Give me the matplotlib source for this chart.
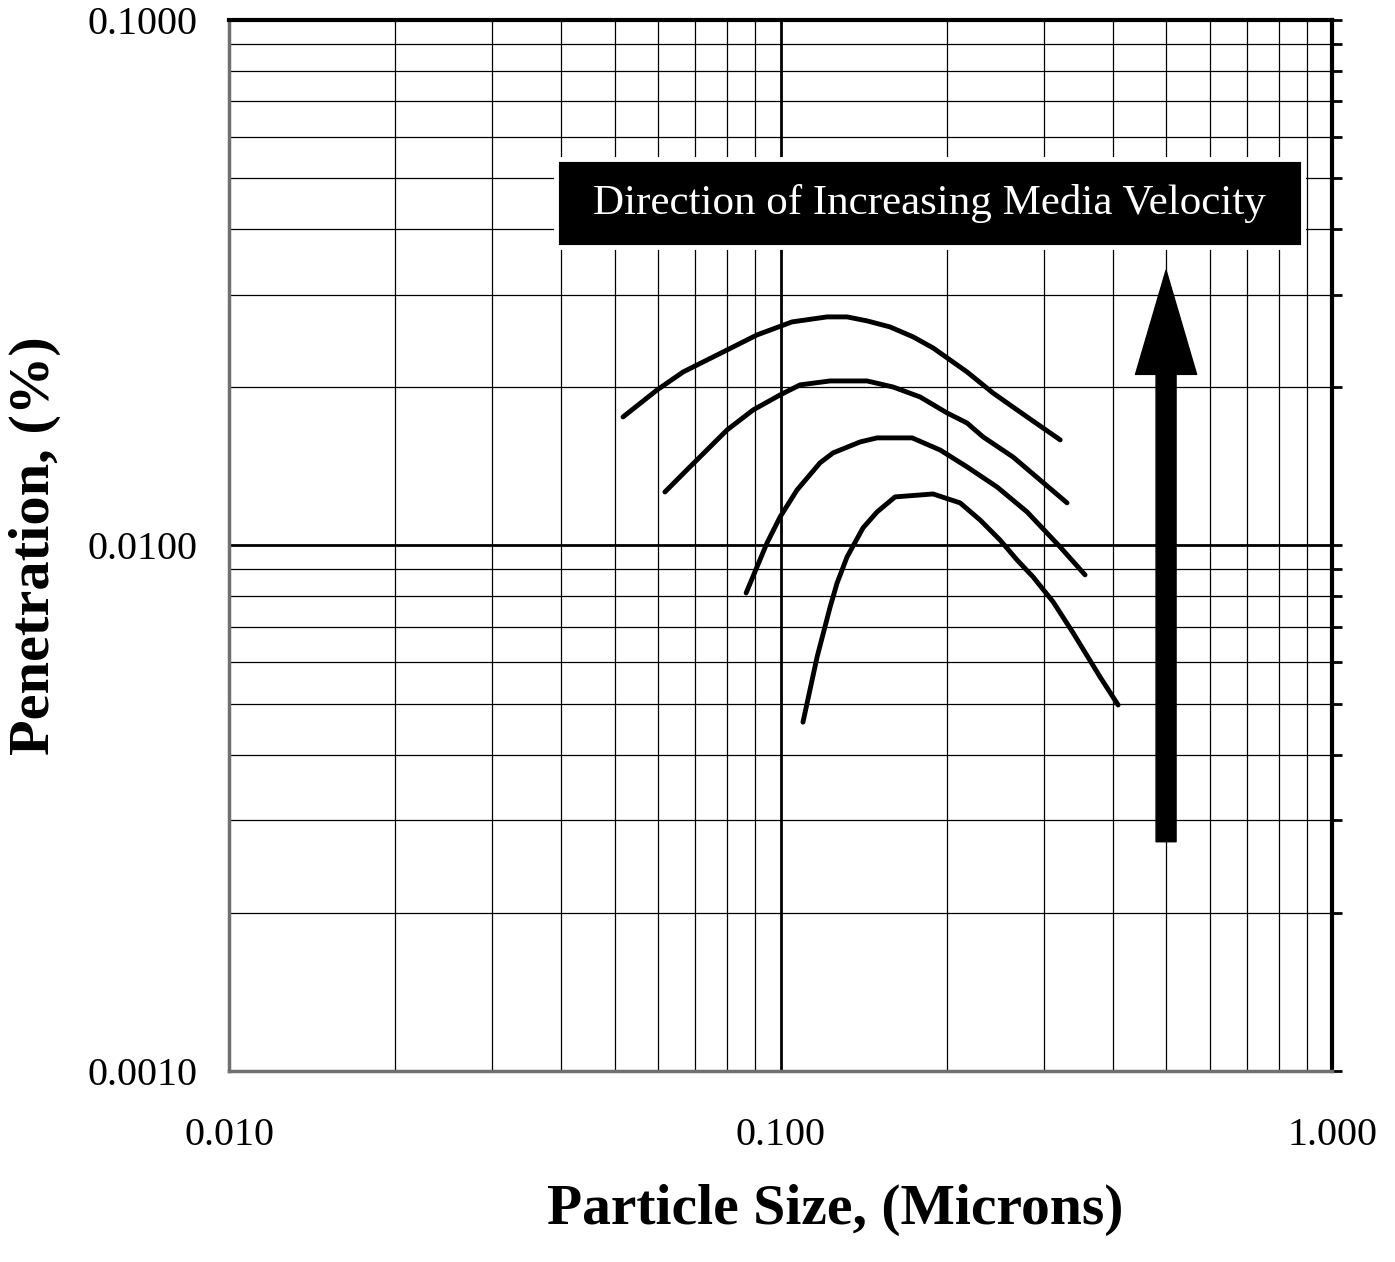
import matplotlib
matplotlib.use("Agg")
import matplotlib.pyplot as plt
from matplotlib.patches import Rectangle
from matplotlib.ticker import NullFormatter, LogLocator

plt.rcParams['font.family'] = ['Liberation Serif', 'DejaVu Serif']

# curves, top to bottom (particle size in microns, penetration in %)
size_1 = [0.0518, 0.0597, 0.0666, 0.0800, 0.0906, 0.1049, 0.1214, 0.1320, 0.1435,
          0.1579, 0.1739, 0.1890, 0.2178, 0.2428, 0.2799, 0.3214]
pen_1 = [0.01756, 0.01976, 0.02139, 0.02355, 0.02515, 0.02663, 0.02722, 0.02722, 0.02675,
         0.02605, 0.02494, 0.02376, 0.02139, 0.01950, 0.01756, 0.01588]

size_2 = [0.0617, 0.0685, 0.0800, 0.0892, 0.0998, 0.1085, 0.1230, 0.1435, 0.1600,
          0.1790, 0.2004, 0.2178, 0.2329, 0.2640, 0.2955, 0.3307]
pen_2 = [0.01264, 0.01411, 0.01659, 0.01811, 0.01934, 0.02021, 0.02056, 0.02056, 0.02002,
         0.01917, 0.01787, 0.01710, 0.01609, 0.01473, 0.01332, 0.01205]

size_3 = [0.0866, 0.0945, 0.0998, 0.1071, 0.1179, 0.1245, 0.1394, 0.1496, 0.1732,
          0.1947, 0.2178, 0.2469, 0.2799, 0.3214, 0.3565]
pen_3 = [0.00812, 0.01011, 0.01133, 0.01275, 0.01436, 0.01500, 0.01574, 0.01602, 0.01602,
         0.01519, 0.01411, 0.01292, 0.01158, 0.00993, 0.00879]

size_4 = [0.1098, 0.1165, 0.1230, 0.1266, 0.1320, 0.1411, 0.1496, 0.1613, 0.1890,
          0.2116, 0.2300, 0.2500, 0.2685, 0.2870, 0.3120, 0.3391, 0.3796, 0.4093]
pen_4 = [0.00461, 0.00614, 0.00764, 0.00848, 0.00951, 0.01080, 0.01158, 0.01237, 0.01253,
         0.01205, 0.01118, 0.01024, 0.00938, 0.00871, 0.00781, 0.00682, 0.00562, 0.00497]

x_ticks = [0.01, 0.1, 1.0]
x_tick_labels = ['0.010', '0.100', '1.000']
y_ticks = [0.001, 0.01, 0.1]
y_tick_labels = ['0.0010', '0.0100', '0.1000']

arrow_x = 0.5
arrow_y_from = 0.00273
arrow_y_to = 0.0334
box_text = 'Direction of Increasing Media Velocity'

fig = plt.figure(figsize=(13.95, 12.62), dpi=100)
ax = fig.add_axes([0.1642, 0.1514, 0.7907, 0.8328])

ax.set_xscale('log')
ax.set_yscale('log')
ax.set_xlim(0.01, 1.0)
ax.set_ylim(0.001, 0.1)

for sx, py in [(size_1, pen_1), (size_2, pen_2), (size_3, pen_3), (size_4, pen_4)]:
    ax.plot(sx, py, color='black', lw=3.5, solid_capstyle='round',
            solid_joinstyle='round', zorder=4)

# grid
ax.xaxis.set_minor_locator(LogLocator(base=10, subs=range(2, 10)))
ax.yaxis.set_minor_locator(LogLocator(base=10, subs=range(2, 10)))
ax.xaxis.set_minor_formatter(NullFormatter())
ax.yaxis.set_minor_formatter(NullFormatter())
ax.grid(which='major', color='black', lw=2.0)
ax.grid(which='minor', color='black', lw=0.9)
ax.set_axisbelow(True)

ax.set_xticks(x_ticks)
ax.set_xticklabels(x_tick_labels, fontsize=29)
ax.set_yticks(y_ticks)
ax.set_yticklabels(y_tick_labels, fontsize=29)

ax.tick_params(axis='x', which='both', bottom=False, top=False, length=0, pad=33)
ax.tick_params(axis='y', which='both', left=False, right=True, direction='out',
               length=7, width=2, pad=16, labelleft=True, labelright=False)

for side in ['left', 'bottom']:
    ax.spines[side].set_color('#707070')
    ax.spines[side].set_linewidth(2.5)
for side in ['top', 'right']:
    ax.spines[side].set_color('black')
    ax.spines[side].set_linewidth(3)

# label box
ax.add_patch(Rectangle((0.2965, 0.7835), 0.6775, 0.0845, transform=ax.transAxes,
                       facecolor='black', edgecolor='white', lw=3.5, zorder=5))
ax.text(0.635, 0.8255, box_text, transform=ax.transAxes, color='white',
        fontsize=31, ha='center', va='center', zorder=6)

# arrow
ax.annotate('', xy=(arrow_x, arrow_y_to), xytext=(arrow_x, arrow_y_from),
            arrowprops=dict(arrowstyle='simple,head_length=75,head_width=44,tail_width=14.4',
                            mutation_scale=1, color='black', shrinkA=0, shrinkB=0), zorder=6)

fig.text(35 / 1395, 1 - 546 / 1262, 'Penetration, (%)', rotation=90, fontsize=42,
         fontweight='bold', ha='center', va='center')
fig.text(835 / 1395, 1 - 1210 / 1262, 'Particle Size, (Microns)', fontsize=41.5,
         fontweight='bold', ha='center', va='center')

fig.savefig('out.png', dpi=100)
